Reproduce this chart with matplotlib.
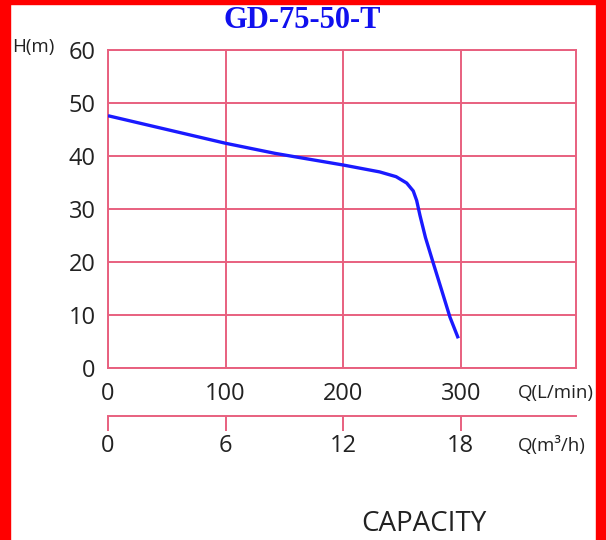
import matplotlib.pyplot as plt
from matplotlib.patches import Rectangle

# curve (Q in L/min, H in m)
q_lmin = [0, 50, 100, 142, 163, 200, 231, 245, 254, 259.6, 262.5, 265.3, 270, 276.6, 284, 290.8, 297.9]
h_m = [47.6, 45.0, 42.4, 40.5, 39.7, 38.3, 37.0, 36.1, 34.9, 33.4, 31.6, 28.8, 24.6, 19.8, 14.5, 9.6, 5.6]

x_ticks = [0, 100, 200, 300]
y_ticks = [0, 10, 20, 30, 40, 50, 60]
m3h_ticks = [0, 6, 12, 18]

grid_c = '#e8607f'
txt_c = '#222222'
plt.rcParams['font.family'] = ['Open Sans', 'DejaVu Sans']

W, H = 606, 540
fig = plt.figure(figsize=(W / 100, H / 100), dpi=100)

# red frame of the picture
fig.patches.append(Rectangle((0, 0), 10 / W, 1, transform=fig.transFigure, color='red', zorder=0))
fig.patches.append(Rectangle((1 - 10 / W, 0), 10 / W, 1, transform=fig.transFigure, color='red', zorder=0))
fig.patches.append(Rectangle((0, 1 - 4 / H), 1, 4 / H, transform=fig.transFigure, color='red', zorder=0))

ax = fig.add_axes([108 / W, 1 - 368 / H, (576 - 108) / W, (368 - 50) / H])
ax.plot(q_lmin, h_m, color='#1a1aff', lw=2.4, solid_capstyle='butt', zorder=3)
ax.set_xlim(0, 398)
ax.set_ylim(0, 60)
ax.set_xticks(x_ticks)
ax.set_yticks(y_ticks)
ax.grid(True, color=grid_c, lw=1.4)
for s in ax.spines.values():
    s.set_color(grid_c)
    s.set_linewidth(1.4)
ax.tick_params(axis='both', length=0, labelsize=17, colors=txt_c)
ax.tick_params(axis='x', pad=10)
ax.tick_params(axis='y', pad=9)

# second flow scale below the plot
sec = ax.secondary_xaxis(-0.152, functions=(lambda q: q * 0.06, lambda m: m / 0.06))
sec.set_xticks(m3h_ticks)
sec.spines['bottom'].set_color(grid_c)
sec.spines['bottom'].set_linewidth(1.4)
sec.tick_params(axis='x', direction='out', length=11, width=1.4, color=grid_c,
                labelsize=17, labelcolor=txt_c, pad=2)

fig.text(302 / W, 1 - 21 / H, 'GD-75-50-T', ha='center', va='center', color='#1010ee',
         fontsize=22, fontweight='bold', family='Liberation Serif')
fig.text(12 / W, 1 - 47 / H, 'H(m)', ha='left', va='center', fontsize=13.5, color=txt_c)
fig.text(518 / W, 1 - 393 / H, 'Q(L/min)', ha='left', va='center', fontsize=13.5, color=txt_c)
fig.text(518 / W, 1 - 446 / H, 'Q(m³/h)', ha='left', va='center', fontsize=13.5, color=txt_c)
fig.text(424 / W, 1 - 524 / H, 'CAPACITY', ha='center', va='center', fontsize=20, color=txt_c)

fig.savefig('out.png', dpi=100)
